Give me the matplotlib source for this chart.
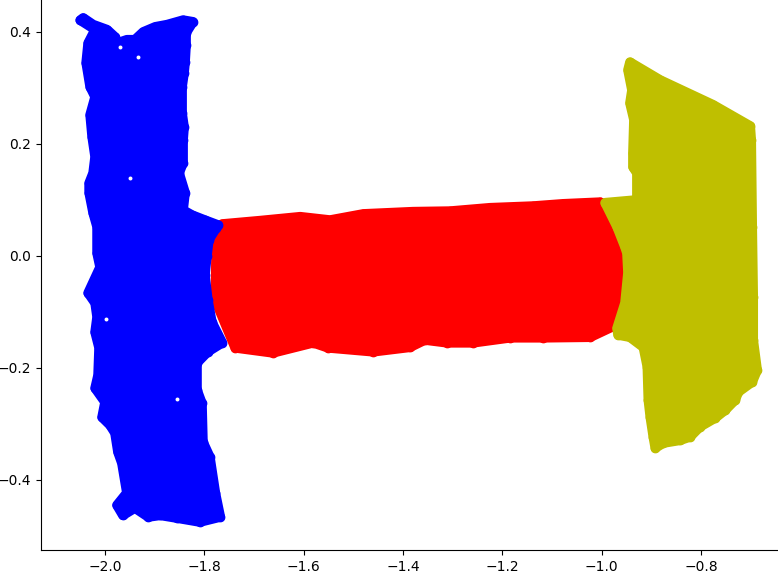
import matplotlib
matplotlib.use("Agg")
import matplotlib.pyplot as plt

# cluster outlines
blue_x = [-2.044, -2.024, -1.996, -1.980, -1.976, -1.956, -1.940, -1.923, -1.899, -1.875, -1.843, -1.823,
          -1.837, -1.837, -1.839, -1.841, -1.845, -1.845, -1.841, -1.843, -1.843, -1.851, -1.839, -1.843,
          -1.825, -1.799, -1.772, -1.776, -1.791, -1.795, -1.799, -1.793, -1.785, -1.764, -1.793, -1.815,
          -1.815, -1.805, -1.803, -1.789, -1.778, -1.768, -1.809, -1.855, -1.889, -1.913, -1.940, -1.964,
          -1.976, -1.956, -1.966, -1.974, -1.980, -1.990, -2.006, -2.000, -2.020, -2.014, -2.012, -2.020,
          -2.016, -2.020, -2.034, -2.010, -2.016, -2.016, -2.024, -2.032, -2.032, -2.024, -2.020, -2.026,
          -2.030, -2.020, -2.030, -2.038, -2.034, -2.020, -2.050]
blue_y = [0.425, 0.413, 0.404, 0.391, 0.380, 0.386, 0.386, 0.400, 0.409, 0.413, 0.421, 0.418,
          0.398, 0.377, 0.346, 0.327, 0.302, 0.255, 0.230, 0.207, 0.166, 0.148, 0.113, 0.082,
          0.073, 0.064, 0.055, 0.050, 0.029, 0.000, -0.034, -0.079, -0.118, -0.155, -0.171, -0.191,
          -0.239, -0.263, -0.332, -0.359, -0.423, -0.466, -0.475, -0.468, -0.463, -0.466, -0.450, -0.463,
          -0.445, -0.423, -0.370, -0.350, -0.316, -0.302, -0.288, -0.261, -0.236, -0.213, -0.164, -0.136,
          -0.109, -0.084, -0.066, -0.020, 0.005, 0.052, 0.077, 0.113, 0.130, 0.148, 0.177, 0.213,
          0.252, 0.284, 0.302, 0.345, 0.380, 0.404, 0.421]

red_x = [-1.764, -1.688, -1.607, -1.547, -1.480, -1.380, -1.305, -1.225, -1.138, -1.078, -1.003, -0.985,
         -0.953, -0.975, -1.023, -1.118, -1.184, -1.259, -1.311, -1.356, -1.386, -1.460, -1.551, -1.581,
         -1.662, -1.738, -1.778, -1.776]
red_y = [0.057, 0.063, 0.070, 0.064, 0.075, 0.079, 0.080, 0.086, 0.089, 0.093, 0.096, 0.075,
         -0.007, -0.125, -0.145, -0.146, -0.146, -0.155, -0.155, -0.150, -0.163, -0.171, -0.164, -0.155,
         -0.173, -0.164, -0.079, 0.029]

yellow_x = [-0.943, -0.882, -0.776, -0.701, -0.699, -0.697, -0.695, -0.695, -0.687, -0.697, -0.725, -0.731,
            -0.751, -0.771, -0.802, -0.822, -0.842, -0.876, -0.892, -0.896, -0.902, -0.906, -0.908, -0.916,
            -0.943, -0.967, -0.969, -0.953, -0.947, -0.949, -0.953, -0.969, -0.993, -0.929, -0.929, -0.937,
            -0.937, -0.935, -0.943, -0.939, -0.947]
yellow_y = [0.346, 0.314, 0.270, 0.232, 0.207, 0.052, -0.073, -0.150, -0.204, -0.225, -0.243, -0.257,
            -0.275, -0.289, -0.305, -0.323, -0.329, -0.334, -0.343, -0.323, -0.288, -0.257, -0.198, -0.163,
            -0.145, -0.141, -0.129, -0.084, -0.030, 0.005, 0.016, 0.052, 0.095, 0.100, 0.148, 0.159,
            0.184, 0.243, 0.273, 0.296, 0.332]

# white specks left between the blue points
gap_x = [-1.934, -1.970, -1.950, -1.998, -1.855]
gap_y = [0.355, 0.373, 0.139, -0.113, -0.255]

x_ticks = [-2.0, -1.8, -1.6, -1.4, -1.2, -1.0, -0.8]
y_ticks = [-0.4, -0.2, 0.0, 0.2, 0.4]

fig = plt.figure(figsize=(7.78, 5.83), dpi=100)
ax = fig.add_axes([41 / 778, 33 / 583, 737 / 778, 550 / 583])

# the thick round edge stands in for the marker radius between outline points
for xs, ys, col in [(red_x, red_y, "r"), (blue_x, blue_y, "b"), (yellow_x, yellow_y, (0.75, 0.75, 0))]:
    ax.fill(xs, ys, facecolor=col, edgecolor=col, lw=7, joinstyle="round")
    ax.scatter(xs, ys, c=[col], s=36)

ax.scatter(gap_x, gap_y, c="white", s=8, lw=0, zorder=5)

ax.set_xlim(-2.129, -0.645)
ax.set_ylim(-0.525, 0.457)
ax.set_xticks(x_ticks)
ax.set_yticks(y_ticks)
ax.spines["top"].set_visible(False)
ax.spines["right"].set_visible(False)

fig.savefig("out.png", dpi=100)
